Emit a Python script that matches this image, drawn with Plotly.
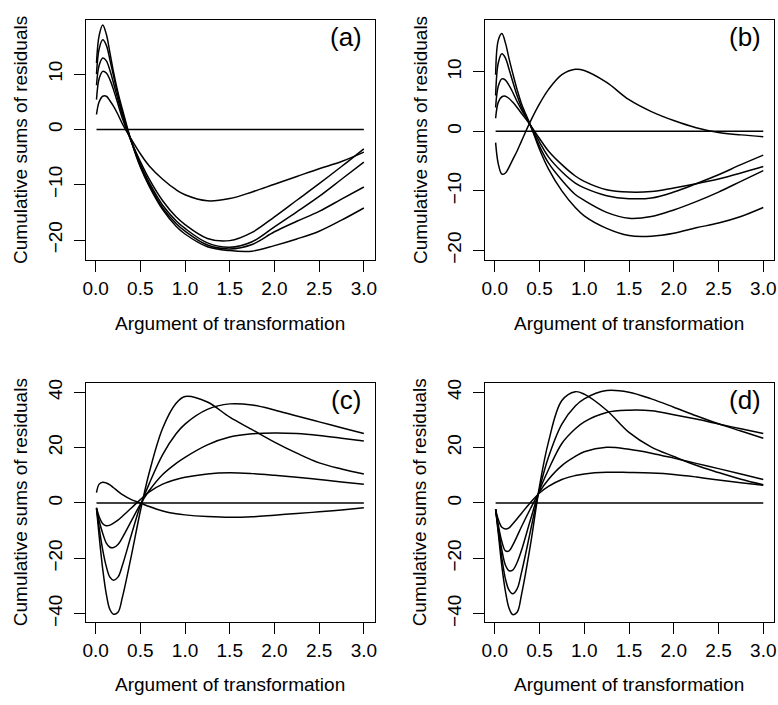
import plotly.graph_objects as go

# common argument grid
x_grid = [0.01, 0.04, 0.08, 0.12, 0.16, 0.2, 0.25, 0.3, 0.4, 0.5, 0.6, 0.75, 0.9, 1.0,
          1.25, 1.5, 1.75, 2.0, 2.25, 2.5, 2.75, 3.0]

# panel (a)
a1 = [2.7, 5.0, 6.0, 6.0, 5.2, 4.2, 2.7, 1.0, -1.8, -4.4, -6.6, -9.0, -10.9, -11.8, -12.9, -12.5, -11.3, -9.9, -8.5, -7.1, -5.8, -4.1]
a2 = [5.4, 9.2, 10.5, 10.2, 9.0, 7.2, 4.6, 2.0, -2.2, -5.8, -9.0, -12.9, -15.8, -17.2, -19.7, -20.1, -18.6, -15.8, -12.8, -9.8, -6.7, -3.5]
a3 = [8.0, 11.6, 12.9, 12.4, 10.7, 8.4, 5.4, 2.6, -2.2, -6.3, -9.6, -13.7, -16.5, -17.9, -20.5, -21.3, -20.3, -17.6, -14.9, -12.1, -9.0, -5.9]
a4 = [10.0, 14.6, 16.2, 15.2, 12.6, 9.7, 6.2, 3.0, -2.2, -6.6, -10.0, -14.2, -17.0, -18.4, -20.9, -21.6, -20.8, -18.5, -16.6, -14.8, -12.6, -10.4]
a5 = [12.0, 17.0, 18.9, 17.2, 13.9, 10.4, 6.7, 3.6, -2.2, -6.8, -10.3, -14.5, -17.5, -18.9, -21.2, -21.9, -22.0, -21.0, -19.8, -18.4, -16.4, -14.2]

# panel (b)
b1 = [-1.9, -5.5, -7.2, -7.0, -6.0, -4.8, -3.3, -1.6, 1.7, 4.6, 7.0, 9.5, 10.4, 10.2, 8.2, 5.3, 3.3, 1.8, 0.6, -0.2, -0.6, -0.9]
b2 = [2.2, 4.9, 5.8, 5.9, 5.5, 4.9, 4.0, 3.0, 1.0, -1.2, -3.3, -5.6, -7.5, -8.4, -9.8, -10.2, -10.1, -9.5, -8.8, -8.0, -7.0, -5.9]
b3 = [4.0, 7.6, 8.8, 8.6, 7.7, 6.6, 5.0, 3.6, 1.0, -1.8, -4.3, -6.8, -8.7, -9.5, -10.8, -11.3, -11.2, -10.2, -8.8, -7.3, -5.6, -4.0]
b4 = [6.0, 11.5, 13.0, 12.3, 10.4, 8.4, 6.0, 4.0, 0.9, -2.5, -5.3, -8.2, -10.6, -11.6, -13.6, -14.6, -14.3, -13.2, -11.8, -10.2, -8.4, -6.6]
b5 = [9.5, 15.3, 16.4, 14.8, 12.2, 9.8, 7.0, 4.6, 1.0, -3.0, -6.3, -10.0, -12.8, -14.2, -16.3, -17.5, -17.6, -17.1, -16.2, -15.4, -14.3, -12.8]

# panel (c)
c1 = [3.7, 6.8, 7.5, 7.2, 6.5, 5.5, 4.2, 3.0, 1.2, 0.0, -1.3, -2.9, -3.9, -4.3, -4.9, -5.2, -5.0, -4.4, -3.8, -3.2, -2.5, -1.7]
c2 = [-1.7, -5.0, -7.5, -8.2, -8.0, -7.3, -6.2, -4.8, -1.8, 1.2, 4.0, 6.8, 8.5, 9.3, 10.5, 10.9, 10.6, 10.0, 9.3, 8.5, 7.6, 6.8]
c3 = [-2.0, -6.5, -11.0, -14.5, -16.0, -16.1, -15.0, -12.5, -6.5, -0.5, 4.5, 10.3, 14.3, 16.5, 21.0, 23.8, 25.0, 25.3, 25.1, 24.4, 23.4, 22.4]
c4 = [-2.0, -9.0, -17.0, -23.0, -26.8, -27.9, -26.8, -22.5, -11.5, -1.0, 7.0, 17.5, 25.0, 28.5, 33.8, 35.8, 35.4, 33.6, 31.4, 29.3, 27.2, 25.1]
c5 = [-2.0, -12.0, -24.0, -33.0, -38.5, -40.2, -39.5, -34.0, -19.0, -3.0, 11.0, 27.0, 36.0, 38.5, 36.5, 31.0, 26.5, 22.0, 18.0, 14.5, 12.3, 10.5]

# panel (d)
d1 = [-2.3, -6.0, -8.8, -9.4, -9.0, -7.6, -5.7, -3.7, 0.2, 3.6, 6.0, 8.5, 9.9, 10.5, 11.1, 11.0, 10.8, 10.3, 9.4, 8.3, 7.3, 6.4]
d2 = [-2.3, -8.0, -14.0, -17.3, -17.3, -15.3, -12.0, -8.5, -2.0, 4.0, 8.5, 13.5, 16.8, 18.5, 20.1, 19.4, 18.0, 16.2, 14.3, 12.4, 10.5, 8.5]
d3 = [-2.3, -9.0, -17.0, -22.5, -24.5, -24.3, -21.5, -17.0, -6.0, 4.5, 12.0, 21.5, 26.8, 29.3, 32.7, 33.5, 33.3, 31.9, 30.3, 28.5, 26.8, 25.1]
d4 = [-2.3, -10.0, -20.0, -27.5, -31.5, -32.8, -31.0, -25.0, -10.0, 5.0, 16.5, 28.5, 35.0, 37.6, 40.6, 40.0, 37.6, 34.6, 31.5, 28.6, 26.0, 23.4]
d5 = [-2.3, -11.0, -23.0, -32.0, -38.0, -40.3, -39.5, -33.0, -15.0, 6.0, 22.0, 37.0, 40.2, 39.3, 33.5, 25.5, 20.2, 16.8, 13.6, 11.0, 8.6, 6.6]

panel_series = [[a1, a2, a3, a4, a5], [b1, b2, b3, b4, b5],
                [c1, c2, c3, c4, c5], [d1, d2, d3, d4, d5]]
panel_labels = ["(a)", "(b)", "(c)", "(d)"]
x_ticks = [0.0, 0.5, 1.0, 1.5, 2.0, 2.5, 3.0]
x_tick_text = ["0.0", "0.5", "1.0", "1.5", "2.0", "2.5", "3.0"]
y_ticks_top = [-20, -10, 0, 10]
y_ticks_bottom = [-40, -20, 0, 20, 40]
y_ranges = [[-23.6, 19.7], [-21.6, 18.6], [-42.9, 43.2], [-42.9, 43.2]]
x_title = "Argument of transformation"
y_title = "Cumulative sums of residuals"

W, H = 778, 705
FONT = "Liberation Sans, Arial, Helvetica, sans-serif"
FS = 19

# pixel boxes: (left, right, top, bottom)
boxes = [(83.3, 374.0, 16.7, 259.3), (485.0, 776.0, 16.7, 259.3),
         (83.3, 374.0, 384.3, 625.7), (485.0, 776.0, 384.3, 625.7)]

fig = go.Figure()
layout = dict(width=W, height=H, margin=dict(l=0, r=0, t=0, b=0),
              paper_bgcolor="white", plot_bgcolor="white", showlegend=False,
              font=dict(family=FONT, size=FS, color="black"))
annotations = []

for i, series in enumerate(panel_series):
    ax = "" if i == 0 else str(i + 1)
    xa, ya = "x" + ax, "y" + ax
    for s in series:
        fig.add_trace(go.Scatter(x=x_grid, y=s, mode="lines", xaxis=xa, yaxis=ya,
                                 line=dict(color="black", width=1.5, shape="spline", smoothing=1.0),
                                 hoverinfo="skip"))
    fig.add_trace(go.Scatter(x=[x_grid[0], x_grid[-1]], y=[0, 0], mode="lines", xaxis=xa, yaxis=ya,
                             line=dict(color="black", width=1.5), hoverinfo="skip"))
    l, r, t, b = boxes[i]
    xd = [l / W, r / W]
    yd = [1 - b / H, 1 - t / H]
    common = dict(showgrid=False, zeroline=False, showline=True, mirror=True,
                  linecolor="black", linewidth=1, ticks="outside", ticklen=11,
                  tickwidth=1, tickcolor="black",
                  tickfont=dict(family=FONT, size=FS, color="black"))
    layout["xaxis" + ax] = dict(domain=xd, range=[-0.11, 3.12], anchor=ya,
                                tickvals=x_ticks, ticktext=x_tick_text, **common)
    layout["yaxis" + ax] = dict(domain=yd, range=y_ranges[i], anchor=xa,
                                tickvals=y_ticks_top if i < 2 else y_ticks_bottom,
                                tickangle=-90, ticklabelstandoff=4, **common)
    cx = (l + r) / 2
    cy = (t + b) / 2
    annotations.append(dict(text=x_title, x=cx / W, y=1 - (b + 64) / H, xref="paper", yref="paper",
                            xanchor="center", yanchor="middle", showarrow=False,
                            font=dict(family=FONT, size=FS, color="black")))
    annotations.append(dict(text=y_title, x=(l - 65.5) / W, y=1 - cy / H, xref="paper", yref="paper",
                            xanchor="center", yanchor="middle", textangle=-90, showarrow=False,
                            font=dict(family=FONT, size=FS, color="black")))
    annotations.append(dict(text=panel_labels[i], x=(r - 29) / W, y=1 - (t + 17) / H,
                            xref="paper", yref="paper", xanchor="center", yanchor="middle",
                            showarrow=False, font=dict(family=FONT, size=26, color="black")))

layout["annotations"] = annotations
fig.update_layout(**layout)
fig.write_html("out.html")
